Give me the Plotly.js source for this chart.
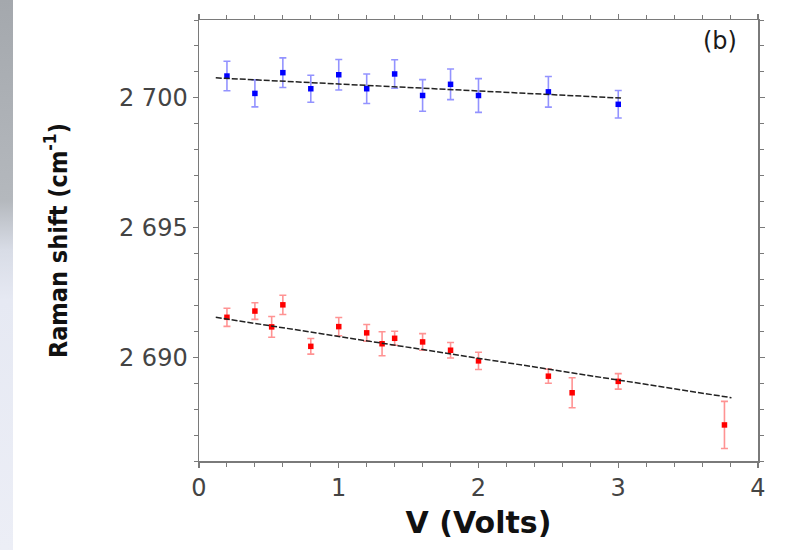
<!DOCTYPE html>
<html>
<head>
<meta charset="utf-8">
<script src="https://cdn.plot.ly/plotly-3.0.1.min.js"></script>
<style>
  html, body { margin: 0; padding: 0; background: #ffffff; }
  #wrap { position: relative; width: 785px; height: 550px; }
  #strip { position: absolute; left: 0; top: 0; width: 13px; height: 550px;
    background: linear-gradient(to bottom, #a4a8ad 0px, #b4b8bd 200px, #d8dce6 250px, #e6e9f3 300px, #eceef6 550px); }
  #chart { position: absolute; left: 0; top: 0; width: 785px; height: 550px; }
</style>
</head>
<body>
<div id="wrap">
  <div id="strip"></div>
  <div id="chart"></div>
</div>
<script>
// ---- data ----
const blueX   = [0.2, 0.4, 0.6, 0.8, 1.0, 1.2, 1.4, 1.6, 1.8, 2.0, 2.5, 3.0];
const blueY   = [2700.84, 2700.17, 2700.97, 2700.35, 2700.89, 2700.35, 2700.92, 2700.09, 2700.52, 2700.09, 2700.23, 2699.75];
const blueErr = [0.57, 0.52, 0.57, 0.52, 0.59, 0.57, 0.55, 0.61, 0.59, 0.65, 0.59, 0.53];

const redX   = [0.2, 0.4, 0.52, 0.6, 0.8, 1.0, 1.2, 1.31, 1.4, 1.6, 1.8, 2.0, 2.5, 2.67, 3.0, 3.76];
const redY   = [2691.54, 2691.78, 2691.17, 2692.02, 2690.42, 2691.18, 2690.94, 2690.52, 2690.73, 2690.59, 2690.27, 2689.86, 2689.27, 2688.63, 2689.07, 2687.39];
const redErr = [0.35, 0.32, 0.40, 0.37, 0.30, 0.35, 0.32, 0.46, 0.27, 0.32, 0.30, 0.33, 0.27, 0.58, 0.30, 0.91];

const blueFitX = [0.12, 3.02];
const blueFitY = [2700.77, 2699.99];
const redFitX  = [0.12, 3.81];
const redFitY  = [2691.54, 2688.44];

const yTickVals = [2690, 2695, 2700];
const yTickText = ['2 690', '2 695', '2 700'];
const xTickVals = [0, 1, 2, 3, 4];
const xTickText = ['0', '1', '2', '3', '4'];

// ---- traces ----
const traces = [
  {
    x: blueX, y: blueY, type: 'scatter', mode: 'markers', name: 'blue',
    marker: { symbol: 'square', size: 5.5, color: '#0000ff', line: { width: 0 } },
    error_y: { type: 'data', array: blueErr, visible: true, color: 'rgba(40,40,255,0.5)', thickness: 1.6, width: 3.5 }
  },
  {
    x: redX, y: redY, type: 'scatter', mode: 'markers', name: 'red',
    marker: { symbol: 'square', size: 5.5, color: '#ff0000', line: { width: 0 } },
    error_y: { type: 'data', array: redErr, visible: true, color: 'rgba(255,40,40,0.5)', thickness: 1.6, width: 3.5 }
  },
  {
    x: blueFitX, y: blueFitY, type: 'scatter', mode: 'lines', name: 'blue fit',
    line: { color: '#222222', width: 1.5, dash: '6px,2px' }
  },
  {
    x: redFitX, y: redFitY, type: 'scatter', mode: 'lines', name: 'red fit',
    line: { color: '#222222', width: 1.5, dash: '6px,2px' }
  }
];

const axisCommon = {
  showgrid: false, zeroline: false,
  showline: true, linecolor: '#7a7a7a', linewidth: 1.5,
  mirror: 'allticks', ticks: 'outside', ticklen: 5, tickwidth: 1.2, tickcolor: '#7a7a7a',
  tickfont: { family: 'DejaVu Sans, Liberation Sans, Arial', size: 24, color: '#444444' }
};

const layout = {
  width: 785, height: 550,
  margin: { l: 199, r: 27, t: 20, b: 89 },
  paper_bgcolor: 'rgba(0,0,0,0)',
  plot_bgcolor: '#ffffff',
  showlegend: false,
  xaxis: Object.assign({}, axisCommon, {
    range: [0, 4],
    tickmode: 'array', tickvals: xTickVals, ticktext: xTickText,
    minor: { dtick: 0.2, ticks: 'outside', ticklen: 4, tickcolor: '#7a7a7a', tickwidth: 1 },
    title: { text: '<b>V (Volts)</b>', standoff: 10,
      font: { family: 'DejaVu Sans, Liberation Sans, Arial', size: 30, color: '#111111' } }
  }),
  yaxis: Object.assign({}, axisCommon, {
    range: [2686, 2703],
    tickmode: 'array', tickvals: yTickVals, ticktext: yTickText,
    minor: { dtick: 1, ticks: 'outside', ticklen: 4, tickcolor: '#7a7a7a', tickwidth: 1 },
    title: { text: '<b>Raman shift (cm<sup>-1</sup>)</b>', standoff: 44,
      font: { family: 'DejaVu Sans Condensed, Liberation Sans', size: 25, color: '#111111' } }
  }),
  annotations: [
    { text: '(b)', xref: 'paper', yref: 'paper', x: 0.932, y: 0.952, showarrow: false,
      xanchor: 'center', yanchor: 'middle',
      font: { family: 'DejaVu Sans, Liberation Sans, Arial', size: 24, color: '#1a1a1a' } }
  ]
};

Plotly.newPlot('chart', traces, layout, { displayModeBar: false, staticPlot: true });
</script>
</body>
</html>
